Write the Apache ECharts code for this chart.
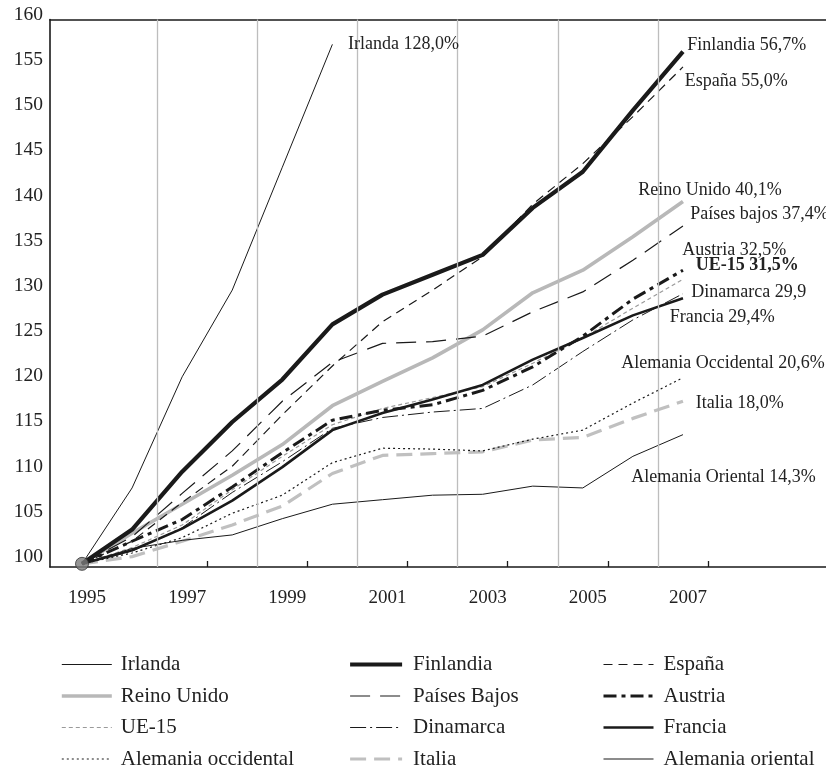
<!DOCTYPE html>
<html>
<head>
<meta charset="utf-8">
<script src="https://cdn.jsdelivr.net/npm/echarts@6/dist/echarts.min.js"></script>
<style>
html,body{margin:0;padding:0;background:#fff;}
#chart{width:826px;height:772px;}
</style>
</head>
<body>
<div id="chart"></div>
<script>
// ---- data ----
const years = [1995,1996,1997,1998,1999,2000,2001,2002,2003,2004,2005,2006,2007];
const irlanda      = [100,108.4,120.7,130.3,143.9,157.5];
const finlandia    = [100,103.8,110.2,115.7,120.4,126.5,129.8,132.0,134.2,139.4,143.4,150.2,156.7];
const espana       = [100,102.5,106.8,110.8,116.5,121.9,126.8,130.3,134.0,139.8,144.3,149.5,155.0];
const reinoUnido   = [100,103.4,106.6,109.8,113.2,117.5,120.2,122.8,125.9,130.0,132.5,136.2,140.1];
const paisesBajos  = [100,103.0,107.8,112.5,118.0,122.3,124.4,124.6,125.2,127.9,130.1,133.6,137.4];
const austria      = [100,102.5,104.9,108.5,112.3,115.9,117.0,117.6,119.2,121.8,125.2,129.3,132.5];
const ue15         = [100,101.8,104.3,108.2,111.9,115.4,117.2,118.4,119.6,122.2,125.0,128.3,131.5];
const dinamarca    = [100,101.4,104.0,107.9,111.3,115.0,116.2,116.8,117.2,119.8,123.5,127.0,129.9];
const francia      = [100,101.5,103.9,107.0,110.7,114.8,116.7,118.2,119.8,122.6,125.0,127.5,129.4];
const alemOcc      = [100,101.2,102.9,105.6,107.6,111.2,112.8,112.7,112.5,113.8,114.8,117.8,120.6];
const italia       = [100,100.8,102.5,104.3,106.4,110.0,112.0,112.2,112.4,113.7,114.0,116.1,118.0];
const alemOri      = [100,101.7,102.6,103.2,105.0,106.6,107.1,107.6,107.7,108.6,108.4,111.9,114.3];

const yTickLabels = [100,105,110,115,120,125,130,135,140,145,150,155,160];
const xTickLabels = [1995,1997,1999,2001,2003,2005,2007];
const xTickMarks  = [1997.5,1999.5,2001.5,2003.5,2005.5,2007.5];
const gridYears   = [1996.5,1998.5,2000.5,2002.5,2004.5,2006.5];
const startPoint  = [1995,100];

const endTexts = {
  'Irlanda':'Irlanda 128,0%','Finlandia':'Finlandia 56,7%','España':'España 55,0%',
  'Reino Unido':'Reino Unido 40,1%','Países Bajos':'Países bajos 37,4%','Austria':'Austria 32,5%',
  'UE-15':'UE-15 31,5%','Dinamarca':'Dinamarca 29,9','Francia':'Francia 29,4%',
  'Alemania occidental':'Alemania Occidental 20,6%','Italia':'Italia 18,0%','Alemania oriental':'Alemania Oriental 14,3%'
};

// ---- styles ----
const SERIF = "'Liberation Serif','Times New Roman',serif";
const styles = {
  'Irlanda':            {values: irlanda,     color:'#1a1a1a', width:1,   type:'solid',        off:[15.6,0]},
  'Finlandia':          {values: finlandia,   color:'#1a1a1a', width:4.2, type:'solid',        off:[4.3,-6.7]},
  'España':             {values: espana,      color:'#1a1a1a', width:1.2, type:[9,6],          off:[1.7,14]},
  'Reino Unido':        {values: reinoUnido,  color:'#b8b8b8', width:3.6, type:'solid',        off:[-44.7,-11.7]},
  'Países Bajos':       {values: paisesBajos, color:'#1a1a1a', width:1.2, type:[20,10],        off:[7.3,-11.7]},
  'Austria':            {values: austria,     color:'#1a1a1a', width:3,   type:[13,5,4,5],     off:[-0.7,-20]},
  'UE-15':              {values: ue15,        color:'#9a9a9a', width:1.2, type:[4,3],          off:[12.7,-13.6], bold:true},
  'Dinamarca':          {values: dinamarca,   color:'#1a1a1a', width:1,   type:[16,4,2,4],     off:[8.3,-1.7]},
  'Francia':            {values: francia,     color:'#1a1a1a', width:2.6, type:'solid',        off:[-13.3,19.3]},
  'Alemania occidental':{values: alemOcc,     color:'#1a1a1a', width:1.2, type:[2,3],          off:[-61.7,-14.3]},
  'Italia':             {values: italia,      color:'#c0c0c0', width:3.2, type:[16,8],         off:[12.7,1.7]},
  'Alemania oriental':  {values: alemOri,     color:'#1a1a1a', width:1,   type:'solid',        off:[-51.7,42.7]}
};

const drawOrder = ['Reino Unido','Italia','UE-15','Irlanda','España','Países Bajos','Dinamarca','Alemania occidental','Alemania oriental','Francia','Austria','Finlandia'];

const series = drawOrder.map(name => {
  const s = styles[name];
  const data = s.values.map((v,i)=>[years[i], v]);
  const last = data[data.length-1];
  return {
    name, type:'line', data, symbol:'none', showSymbol:false, silent:true,
    lineStyle:{color:s.color, width:s.width, type:s.type, cap:'butt', join:'round'},
    itemStyle:{color:s.color},
    markPoint:{
      symbol:'circle', symbolSize:0, silent:true, animation:false,
      data:[{coord:last, value:0}],
      label:{show:true, position:'inside', align:'left', verticalAlign:'middle',
        offset:s.off, formatter:endTexts[name],
        fontFamily:SERIF, fontSize:18, color:'#222', fontWeight: s.bold ? 'bold':'normal'}
    }
  };
});

series.push({
  name:'_start', type:'scatter', data:[startPoint], symbol:'circle', symbolSize:13, silent:true, z:10,
  itemStyle:{color:'#7a7a7a', borderColor:'#333', borderWidth:1},
  markLine:{silent:true, symbol:'none', animation:false, label:{show:false},
    lineStyle:{color:'#bdbdbd', type:'solid', width:1.3},
    data: gridYears.map(v=>({xAxis:v}))}
});

const legendCol = (names, left, itemWidth, padLeft) => ({
  data: names.map(n => ({name:n, lineStyle:{width: Math.max(1.2, styles[n].width)}})),
  left, top: 654, height: 160, orient:'vertical', itemWidth, itemHeight:14, itemGap:10.5,
  padding:0, selectedMode:false,
  itemStyle:{opacity:0, borderWidth:0},
  textStyle:{fontFamily:SERIF, fontSize:21, color:'#222', lineHeight:21, padding:[0,0,0,padLeft]}
});

const chart = echarts.init(document.getElementById('chart'), null, {renderer:'canvas'});
chart.setOption({
  animation:false,
  backgroundColor:'#fff',
  grid:{left:50, right:0, top:19.5, bottom:205, containLabel:false},
  xAxis:[{
    type:'value', min:1994.361, max:2009.856, position:'bottom',
    axisLine:{show:true, lineStyle:{color:'#1a1a1a', width:1.6}},
    axisTick:{show:true, inside:true, length:6, customValues:xTickMarks, lineStyle:{color:'#1a1a1a', width:1.3}},
    axisLabel:{show:true, customValues:xTickLabels, formatter: v=>String(v), margin:22,
      fontFamily:SERIF, fontSize:19, color:'#222', padding:[0,0,0,10]},
    splitLine:{show:false}
  },{
    type:'value', min:1994.361, max:2009.856, position:'top',
    axisLine:{show:true, lineStyle:{color:'#1a1a1a', width:1.6}},
    axisTick:{show:false}, axisLabel:{show:false}, splitLine:{show:false}
  }],
  yAxis:{
    type:'value', min:99.65, max:160.25,
    axisLine:{show:true, lineStyle:{color:'#1a1a1a', width:1.6}},
    axisTick:{show:false},
    axisLabel:{show:true, customValues:yTickLabels, formatter: v=>String(v), margin:7,
      fontFamily:SERIF, fontSize:19.5, color:'#222', verticalAlign:'bottom', lineHeight:14},
    splitLine:{show:false}
  },
  legend:[
    legendCol(['Irlanda','Reino Unido','UE-15','Alemania occidental'], 60, 50, 4),
    legendCol(['Finlandia','Países Bajos','Dinamarca','Italia'], 348, 52, 6),
    legendCol(['España','Austria','Francia','Alemania oriental'], 602, 50, 5)
  ],
  series
});
</script>
</body>
</html>
